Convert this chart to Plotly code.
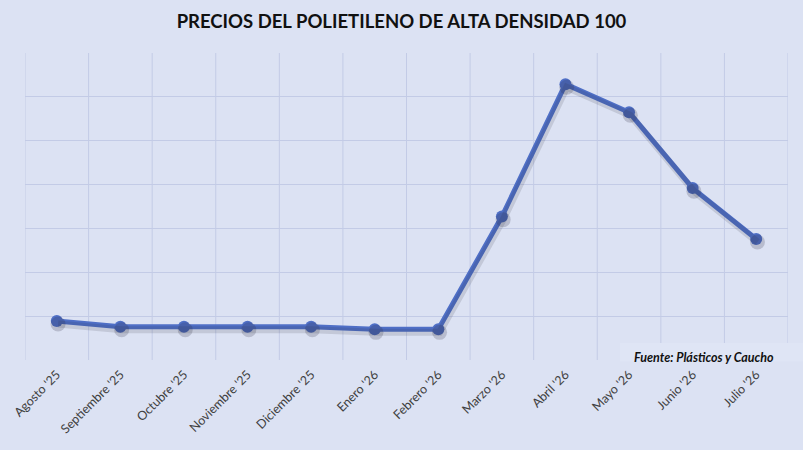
import plotly.graph_objects as go

months = ["Agosto '25", "Septiembre '25", "Octubre '25", "Noviembre '25", "Diciembre '25",
          "Enero '26", "Febrero '26", "Marzo '26", "Abril '26", "Mayo '26", "Junio '26", "Julio '26"]
prices = [0.89, 0.76, 0.76, 0.76, 0.76, 0.70, 0.70, 3.27, 6.29, 5.65, 3.92, 2.76]

title_text = "PRECIOS DEL POLIETILENO DE ALTA DENSIDAD 100"
source_text = "Fuente: Plásticos y Caucho"

BG = "#dce2f3"
GRID = "#c3cbe6"
LINE = "#4f6fc6"

fig = go.Figure()
# soft shadow drawn on an offset overlay axis
fig.add_trace(go.Scatter(x=months, y=prices, mode="lines+markers",
                         line=dict(color="rgba(40,40,60,0.14)", width=7),
                         marker=dict(size=15, color="rgba(40,40,60,0.2)"),
                         xaxis="x2", yaxis="y2", hoverinfo="skip", showlegend=False))
fig.add_trace(go.Scatter(x=months, y=prices, mode="lines+markers",
                         line=dict(color=LINE, width=5),
                         marker=dict(size=12, color=LINE),
                         showlegend=False))

fig.update_layout(
    width=803, height=450,
    margin=dict(l=25, r=15, t=53, b=90),
    paper_bgcolor=BG, plot_bgcolor=BG,
    font=dict(family="Lato", color="#404040"),
    title=dict(text="<b>" + title_text + "</b>", x=0.5, xanchor="center",
               y=1 - 22 / 450, yanchor="middle", font=dict(family="Lato", size=18.5, color="#111111")),
    xaxis=dict(type="category", range=[-0.5, 11.5], showgrid=False, automargin=False,
               tickangle=-45, tickfont=dict(size=12.5, color="#404040"), ticklabelstandoff=4,
               ticks="", showline=False, zeroline=False),
    yaxis=dict(range=[0, 7], dtick=1, showgrid=True, gridcolor=GRID, gridwidth=1,
               showticklabels=False, zeroline=False, showline=False, ticks="", automargin=False),
    xaxis2=dict(type="category", range=[-0.5 - 0.02, 11.5 - 0.02], overlaying="x",
                visible=False),
    yaxis2=dict(range=[0.07, 7.07], overlaying="y", visible=False),
    shapes=[
        dict(type="line", xref="x", yref="paper", x0=i - 0.5, x1=i - 0.5, y0=0, y1=1,
             line=dict(color=GRID, width=1), layer="below")
        for i in range(len(months) + 1)
    ] + [
        dict(type="rect", xref="paper", yref="paper", x0=(620 - 25) / 763, x1=1.02,
             y0=-0.004, y1=17 / 307, fillcolor="#dfe5f5", line=dict(width=0), layer="above")
    ],
    annotations=[
        dict(text="<b><i>" + source_text + "</i></b>", xref="paper", yref="paper",
             x=(704 - 25) / 763, y=3 / 307, xanchor="center", yanchor="middle",
             showarrow=False, font=dict(family="Lato", size=12.5, color="#111111"))
    ],
)

fig.write_html("out.html", config={"displayModeBar": False},
               post_script="document.body.style.margin='0';")
